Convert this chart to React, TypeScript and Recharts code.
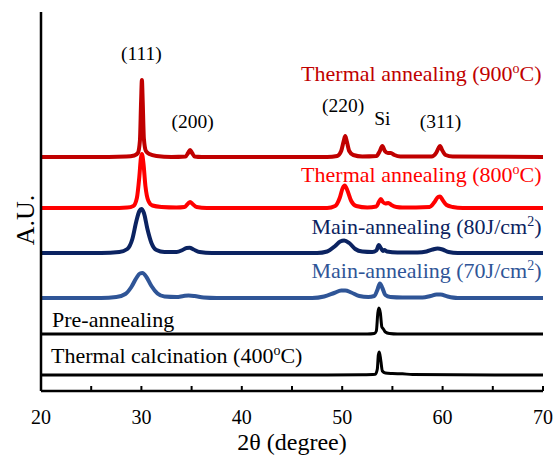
import React from "react";
import { LineChart, Line, XAxis, YAxis, ReferenceDot } from "recharts";

type Pt = { x: number; v: number };
const pts = (rows: number[][]): Pt[] => rows.map(([x, v]) => ({ x, v }));

// 2θ (degree) vs stacked intensity (A.U.)
const thermal900 = pts([
  [20, 234], [25, 234], [28.5, 234.5], [29.3, 235.5], [29.65, 238], [29.85, 250], [29.97, 290],
  [30.05, 311], [30.13, 290], [30.25, 252], [30.45, 240], [30.8, 237], [31.5, 235], [33, 234],
  [34.4, 234.5], [34.65, 238], [34.85, 241], [35.05, 238], [35.3, 234.5], [36, 234], [48.5, 234],
  [49.5, 235], [49.9, 240], [50.15, 250], [50.3, 255], [50.45, 250], [50.7, 240], [51.1, 236],
  [52, 234.5], [53.4, 235], [53.75, 240], [54.0, 245], [54.25, 240], [54.55, 238], [54.85, 238],
  [55.2, 236], [55.8, 234.5], [58.9, 234.5], [59.35, 238], [59.6, 243], [59.75, 245], [59.95, 241],
  [60.3, 236], [61, 234.5], [70, 234],
]);
const thermal800 = pts([
  [20, 183], [27, 183], [28.6, 183.5], [29.2, 185], [29.55, 193], [29.8, 215], [29.95, 233],
  [30.05, 237], [30.2, 228], [30.4, 205], [30.7, 190], [31.1, 185.5], [32, 184], [33.5, 183.5],
  [34.3, 184], [34.65, 187.5], [34.85, 189], [35.1, 187], [35.5, 184], [36.5, 183], [48.5, 183],
  [49.3, 185], [49.75, 193], [50.05, 203], [50.25, 205.5], [50.5, 201], [50.9, 190], [51.4, 185],
  [52.5, 183.5], [53.4, 184.5], [53.65, 189], [53.85, 192], [54.05, 189], [54.3, 187.5], [54.6, 188],
  [54.9, 186], [55.4, 184], [56, 183.5], [58.7, 184], [59.2, 189], [59.55, 194], [59.75, 194.5],
  [60.0, 191], [60.4, 186], [61, 184], [62, 183], [70, 183],
]);
const main80 = pts([
  [20, 138], [26, 138], [27.8, 139], [28.6, 142], [29.1, 152], [29.5, 170], [29.8, 180], [30.0, 182],
  [30.25, 178], [30.6, 162], [31.0, 148], [31.5, 141], [32.3, 139], [33.5, 139], [34.1, 141],
  [34.5, 143], [34.8, 143.2], [35.2, 141.5], [35.8, 139], [37, 138], [47.5, 138], [48.5, 139.5],
  [49.3, 145], [49.8, 149.5], [50.2, 150.5], [50.7, 148], [51.3, 142], [52, 139.5], [53, 139],
  [53.4, 140.5], [53.65, 146], [53.85, 143], [54.05, 140], [54.2, 141], [54.45, 139.5], [55.5, 138.5],
  [57.5, 138.5], [58.4, 139.5], [59.0, 141.5], [59.5, 142.5], [60.0, 141.5], [60.6, 139], [61.5, 138],
  [70, 138],
]);
const main70 = pts([
  [20, 93], [26, 93], [27.5, 94], [28.4, 97], [29.0, 104], [29.5, 113], [29.85, 117.5], [30.1, 118],
  [30.5, 114], [31.0, 105], [31.6, 97.5], [32.3, 94.5], [33.5, 94], [34.2, 95], [34.7, 95.5],
  [35.3, 95], [36.2, 93.5], [37.5, 93], [47, 93], [48.2, 94.5], [49.2, 98], [49.9, 100.5], [50.3, 100.5],
  [50.9, 98.5], [51.7, 95], [52.6, 94], [53.2, 95], [53.5, 101], [53.75, 107.5], [54.0, 103],
  [54.3, 96], [54.8, 94], [56, 93.5], [58, 93.5], [58.8, 95], [59.4, 96.5], [59.8, 96.5], [60.5, 94.5],
  [61.5, 93], [70, 93],
]);
const preAnneal = pts([
  [20, 57], [52.5, 57], [53.2, 57.5], [53.4, 60], [53.55, 78], [53.65, 83], [53.8, 78], [53.95, 64],
  [54.1, 62], [54.3, 59], [54.7, 57.5], [55.5, 57], [70, 57],
]);
const calcination = pts([
  [20, 16], [48.5, 16], [52, 16.3], [53.3, 16.8], [53.5, 22], [53.6, 36], [53.7, 39], [53.85, 30],
  [54.0, 20], [54.3, 18], [55, 17.5], [56, 17.2], [57, 16.5], [70, 16],
]);

const seriesData = [thermal900, thermal800, main80, main70, preAnneal, calcination];
const seriesNames = [
  "Thermal annealing (900^o^C)",
  "Thermal annealing (800^o^C)",
  "Main-annealing (80J/cm^2^)",
  "Main-annealing (70J/cm^2^)",
  "Pre-annealing",
  "Thermal calcination (400^o^C)",
];
const seriesColors = ["#C00000", "#FF0000", "#0B2361", "#2F5597", "#000000", "#000000"];
// where each series name sits: [2θ, intensity, anchor]
const nameAt: [number, number, "start" | "end"][] = [
  [69.85, 318, "end"], [69.85, 217, "end"], [69.85, 165, "end"], [69.85, 120.5, "end"],
  [21.1, 71.5, "start"], [21.0, 36, "start"],
];

const peakNames = ["(111)", "(200)", "(220)", "Si", "(311)"];
const peakX = [30.0, 35.1, 50.1, 54.0, 59.8];
const peakY = [337.5, 270, 286, 272.5, 269.5];

const xTicks = [20, 25, 30, 35, 40, 45, 50, 55, 60, 65, 70];

const SERIF = '"Liberation Serif", "Times New Roman", Times, "DejaVu Serif", serif';
const serifStyle = { fontFamily: SERIF };

const rich = (text: string, size: number) => {
  const bits = text.split("^");
  const sup = Math.round(size * 0.62);
  const lift = Math.round(size * 0.36);
  return bits.map((b, i) =>
    i % 2 === 1 ? (
      <tspan key={i} fontSize={sup} dy={-lift}>{b}</tspan>
    ) : (
      <tspan key={i} dy={i === 0 ? 0 : lift}>{b}</tspan>
    )
  );
};

const textLabel = (text: string, color: string, anchor: string, size: number) =>
  (props: any) => {
    const vb = props.viewBox || {};
    return (
      <text
        x={vb.x}
        y={vb.y + size * 0.35}
        textAnchor={anchor}
        fill={color}
        fontSize={size}
        style={serifStyle}
      >
        {rich(text, size)}
      </text>
    );
  };

const XTick = (props: any) => {
  const { x, y, payload } = props;
  return (
    <g>
      <line x1={x} x2={x} y1={y} y2={y - 5} stroke="#000" strokeWidth={2} />
      {payload.value % 10 === 0 && (
        <text x={x} y={y + 33} textAnchor="middle" fill="#000" fontSize={20} style={serifStyle}>
          {payload.value}
        </text>
      )}
    </g>
  );
};

const XTitle = (props: any) => {
  const vb = props.viewBox;
  return (
    <text x={vb.x + vb.width / 2} y={vb.y + 59} textAnchor="middle" fill="#000" fontSize={24} style={serifStyle}>
      2θ (degree)
    </text>
  );
};

const YTitle = (props: any) => {
  const vb = props.viewBox;
  const cx = vb.x + 25;
  const cy = vb.y + 208;
  return (
    <text
      x={cx}
      y={cy + 9}
      transform={`rotate(-90, ${cx}, ${cy})`}
      textAnchor="middle"
      fill="#000"
      fontSize={26}
      style={serifStyle}
    >
      A.U.
    </text>
  );
};

export default function App() {
  return (
    <div style={{ position: "fixed", left: 0, top: 0, background: "#fff", ...serifStyle }}>
      <LineChart width={556} height={456} margin={{ top: 12, right: 13, bottom: 0, left: 0 }}>
        <XAxis
          dataKey="x"
          type="number"
          domain={[20, 70]}
          ticks={xTicks}
          interval={0}
          allowDataOverflow
          height={65}
          tickSize={0}
          tickMargin={0}
          tickLine={false}
          tick={<XTick />}
          axisLine={{ stroke: "#000", strokeWidth: 2.5 }}
          label={{ content: XTitle }}
        />
        <XAxis
          xAxisId="top"
          orientation="top"
          type="number"
          domain={[20, 70]}
          height={0}
          tick={false}
          tickLine={false}
          axisLine={{ stroke: "#000", strokeWidth: 2.5 }}
        />
        <YAxis
          type="number"
          domain={[0, 379]}
          width={41}
          tick={false}
          tickLine={false}
          axisLine={{ stroke: "#000", strokeWidth: 2.5 }}
          label={{ content: YTitle }}
        />
        <YAxis
          yAxisId="right"
          orientation="right"
          type="number"
          domain={[0, 379]}
          width={0}
          tick={false}
          tickLine={false}
          axisLine={{ stroke: "#000", strokeWidth: 2.5 }}
        />
        {seriesData.map((d, i) => (
          <Line
            key={seriesNames[i]}
            data={d}
            dataKey="v"
            type="monotone"
            dot={false}
            activeDot={false}
            stroke={seriesColors[i]}
            strokeWidth={i < 4 ? 4 : 3}
            strokeLinejoin="round"
            isAnimationActive={false}
          />
        ))}
        {seriesNames.map((name, i) => (
          <ReferenceDot
            key={"n" + i}
            x={nameAt[i][0]}
            y={nameAt[i][1]}
            r={0}
            fill="none"
            stroke="none"
            ifOverflow="visible"
            label={{ content: textLabel(name, seriesColors[i], nameAt[i][2], 22) }}
          />
        ))}
        {peakNames.map((name, i) => (
          <ReferenceDot
            key={"p" + i}
            x={peakX[i]}
            y={peakY[i]}
            r={0}
            fill="none"
            stroke="none"
            ifOverflow="visible"
            label={{ content: textLabel(name, "#000", "middle", 19.5) }}
          />
        ))}
      </LineChart>
    </div>
  );
}
